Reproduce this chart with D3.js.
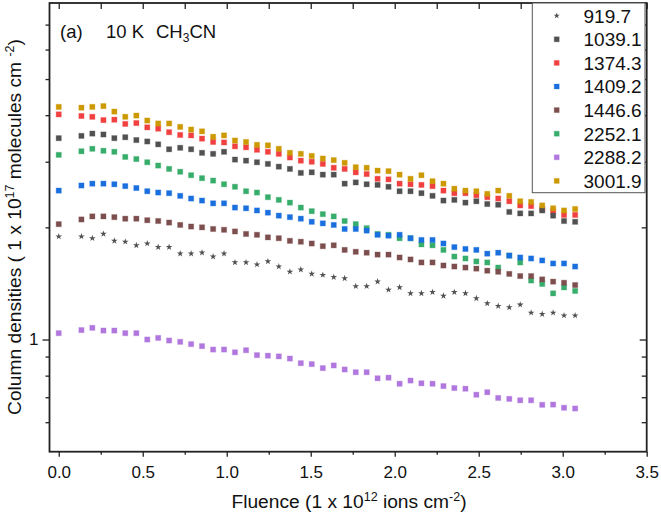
<!DOCTYPE html>
<html><head><meta charset="utf-8">
<script src="https://cdn.jsdelivr.net/npm/d3@7"></script>
<style>
body{margin:0;background:#fff}
svg{display:block}
text{font-family:"Liberation Sans",Arial,Helvetica,sans-serif;fill:#111}
</style>
</head><body>
<svg id="c" width="661" height="515"></svg>
<script>
// ---------------- data ----------------
const fluence = [0, 0.135, 0.200, 0.266, 0.331, 0.396, 0.462, 0.527, 0.592, 0.657, 0.723, 0.788, 0.853, 0.919, 0.984,
  1.049, 1.115, 1.180, 1.245, 1.310, 1.376, 1.441, 1.506, 1.572, 1.637, 1.702, 1.768, 1.833, 1.898, 1.963, 2.029,
  2.094, 2.159, 2.225, 2.290, 2.355, 2.421, 2.486, 2.551, 2.616, 2.682, 2.747, 2.812, 2.878, 2.943, 3.008, 3.074];

const s919_7 = [1.89,1.89,1.87,1.92,1.84,1.83,1.79,1.81,1.77,1.77,1.70,1.70,1.71,1.67,1.70,
  1.61,1.61,1.59,1.62,1.57,1.52,1.54,1.50,1.49,1.47,1.46,1.39,1.39,1.43,1.36,1.38,
  1.33,1.33,1.34,1.31,1.34,1.33,1.29,1.25,1.23,1.22,1.24,1.18,1.17,1.18,1.16,1.16];
const s1039_1 = [3.47,3.52,3.57,3.55,3.47,3.49,3.43,3.40,3.34,3.24,3.27,3.24,3.17,3.15,3.19,
  3.04,3.02,2.99,2.96,2.91,2.87,2.80,2.81,2.77,2.77,2.62,2.64,2.61,2.60,2.57,2.50,
  2.50,2.47,2.43,2.36,2.37,2.33,2.35,2.31,2.30,2.20,2.18,2.18,2.22,2.15,2.08,2.07];
const s1374_3 = [4.02,3.98,3.96,3.88,3.89,3.79,3.81,3.71,3.68,3.60,3.54,3.53,3.46,3.39,3.38,
  3.30,3.28,3.23,3.19,3.15,3.08,3.02,3.00,2.96,2.89,2.87,2.81,2.78,2.70,2.69,2.62,
  2.61,2.60,2.58,2.51,2.47,2.47,2.44,2.41,2.39,2.35,2.29,2.28,2.24,2.21,2.16,2.16];
const s1409_2 = [2.51,2.59,2.62,2.62,2.61,2.58,2.55,2.50,2.48,2.47,2.43,2.39,2.36,2.32,2.32,
  2.26,2.25,2.22,2.19,2.15,2.13,2.11,2.07,2.05,2.03,1.98,1.98,1.96,1.91,1.90,1.91,
  1.87,1.85,1.85,1.81,1.77,1.75,1.74,1.70,1.71,1.68,1.66,1.65,1.63,1.60,1.60,1.57];
const s1446_6 = [2.04,2.10,2.14,2.14,2.13,2.11,2.11,2.09,2.08,2.06,2.03,2.01,2.00,1.98,1.97,
  1.95,1.92,1.91,1.88,1.87,1.84,1.83,1.81,1.78,1.79,1.74,1.72,1.71,1.69,1.69,1.66,
  1.64,1.61,1.61,1.58,1.57,1.56,1.55,1.53,1.52,1.50,1.48,1.48,1.45,1.43,1.42,1.40];
const s2252_1 = [3.13,3.20,3.25,3.21,3.19,3.09,3.05,2.99,2.93,2.87,2.82,2.76,2.71,2.67,2.61,
  2.57,2.50,2.48,2.41,2.37,2.33,2.26,2.21,2.17,2.14,2.08,2.04,1.99,1.92,1.91,1.87,
  1.87,1.80,1.79,1.74,1.67,1.65,1.62,1.61,1.56,1.68,1.61,1.44,1.41,1.33,1.38,1.35];
const s2288_2 = [1.04,1.06,1.075,1.057,1.057,1.04,1.04,1.00,1.01,0.994,0.986,0.972,0.960,0.940,0.940,0.924,0.936,0.908,0.905,0.901,0.889,0.864,0.859,
  0.838,0.852,0.831,0.817,0.817,0.787,0.790,0.761,0.776,0.763,0.761,0.750,0.741,0.738,0.711,0.722,0.697,0.693,0.687,0.687,0.668,0.669,0.656,0.653];
const s3001_9 = [4.21,4.19,4.21,4.23,4.09,3.96,3.99,3.87,3.80,3.80,3.72,3.66,3.62,3.50,3.53,
  3.42,3.39,3.33,3.32,3.25,3.17,3.15,3.11,3.06,3.03,2.98,2.90,2.89,2.84,2.83,2.77,
  2.70,2.76,2.66,2.62,2.54,2.51,2.50,2.46,2.51,2.43,2.35,2.34,2.29,2.25,2.22,2.24];

const legendNames = ["919.7","1039.1","1374.3","1409.2","1446.6","2252.1","2288.2","3001.9"];
const seriesValues = [s919_7, s1039_1, s1374_3, s1409_2, s1446_6, s2252_1, s2288_2, s3001_9];
const colors = ["#515151","#515151","#F14040","#1A6FDF","#7D4E4E","#37AD6B","#B177DE","#CC9900"];
const shapes = ["star","square","square","square","square","square","square","square"];
const drawOrder = [5,3,4,2,1,7,6,0];

const xMajor = [0,0.5,1.0,1.5,2.0,2.5,3.0,3.5];
const xMinor = [0.25,0.75,1.25,1.75,2.25,2.75,3.25];
const yMajor = [1];
const yMinor = [0.6,0.7,0.8,0.9,2,3,4,5,6,7];

// ---------------- layout ----------------
const L = 49.5, R = 646.7, T = 3, B = 451.7;
const svg = d3.select("#c");
const x = d3.scaleLinear().domain([-0.055, 3.5]).range([L, R]);
const y = d3.scaleLog().domain([0.5, 8]).range([B, T]);

// data
const plot = svg.append("g");
drawOrder.forEach(si => {
  const pts = fluence.map((f, i) => ({x: f, y: seriesValues[si][i]}));
  const g = plot.append("g");
  if (shapes[si] === "star") {
    g.selectAll("path").data(pts).join("path")
      .attr("d", d3.symbol(d3.symbolStar).size(14))
      .attr("transform", d => `translate(${x(d.x)},${y(d.y)})`)
      .attr("fill", colors[si]);
  } else {
    const s = 5.2;
    g.selectAll("rect").data(pts).join("rect")
      .attr("x", d => x(d.x) - s/2).attr("y", d => y(d.y) - s/2)
      .attr("width", s).attr("height", s)
      .attr("fill", colors[si])
      .attr("stroke", colors[si]).attr("stroke-opacity", 0.3).attr("stroke-width", 1);
  }
});

// axes
function styleAxis(g){
  g.select(".domain").remove();
  g.selectAll(".tick line").attr("stroke", "#222").attr("stroke-width", 1.3);
  g.selectAll("text").attr("font-size", 17).attr("fill", "#111")
    .attr("font-family", '"Liberation Sans",Arial,sans-serif');
}
svg.append("g").attr("transform", `translate(0,${B})`)
  .call(d3.axisBottom(x).tickValues(xMajor).tickSize(5).tickPadding(9).tickFormat(d3.format(".1f"))).call(styleAxis);
svg.append("g").attr("transform", `translate(0,${B})`)
  .call(d3.axisBottom(x).tickValues(xMinor).tickSize(3).tickFormat("")).call(styleAxis);
svg.append("g").attr("transform", `translate(0,${T})`)
  .call(d3.axisBottom(x).tickValues(xMajor.concat(xMinor)).tickSize(6).tickFormat("")).call(styleAxis);
svg.append("g").attr("transform", `translate(${L},0)`)
  .call(d3.axisLeft(y).tickValues(yMajor).tickSize(7).tickPadding(4).tickFormat(d3.format("d"))).call(styleAxis);
svg.append("g").attr("transform", `translate(${L},0)`)
  .call(d3.axisLeft(y).tickValues(yMinor).tickSize(4).tickFormat("")).call(styleAxis);
svg.append("g").attr("transform", `translate(${R},0)`)
  .call(d3.axisLeft(y).tickValues(yMajor).tickSize(7).tickFormat("")).call(styleAxis);
svg.append("g").attr("transform", `translate(${R},0)`)
  .call(d3.axisLeft(y).tickValues(yMinor).tickSize(5).tickFormat("")).call(styleAxis);

// frame
svg.append("rect").attr("x", L).attr("y", T).attr("width", R - L).attr("height", B - T)
  .attr("fill", "none").attr("stroke", "#222").attr("stroke-width", 1.8);

// legend
const lg = svg.append("g");
lg.append("rect").attr("x", 532.3).attr("y", T).attr("width", 112.7).attr("height", 189.7)
  .attr("fill", "#fff").attr("stroke", "#555").attr("stroke-width", 1);
legendNames.forEach((n, i) => {
  const cy = 15.7 + i * 23.6;
  if (shapes[i] === "star") {
    lg.append("path").attr("d", d3.symbol(d3.symbolStar).size(12))
      .attr("transform", `translate(556.7,${cy})`).attr("fill", colors[i]);
  } else {
    lg.append("rect").attr("x", 556.7 - 2.5).attr("y", cy - 2.5).attr("width", 5).attr("height", 5)
      .attr("fill", colors[i]).attr("stroke", colors[i]).attr("stroke-opacity", 0.3);
  }
  lg.append("text").attr("x", 583.5).attr("y", cy).attr("dy", "0.36em")
    .attr("font-size", 19).text(n);
});

// annotation
const ann = svg.append("g");
ann.append("text").attr("x", 60).attr("y", 38).attr("font-size", 18.5).text("(a)");
ann.append("text").attr("x", 106).attr("y", 38).attr("font-size", 18.5).text("10 K");
const ch = ann.append("text").attr("x", 156).attr("y", 38).attr("font-size", 18.5);
ch.append("tspan").text("CH");
ch.append("tspan").attr("font-size", 12).attr("dy", 4).text("3");
ch.append("tspan").attr("dy", -4).text("CN");

// axis titles
const xt = svg.append("text").attr("x", 349).attr("y", 508).attr("text-anchor", "middle").attr("font-size", 19.2);
xt.append("tspan").text("Fluence (1 x 10");
xt.append("tspan").attr("font-size", 12.5).attr("dy", -7).text("12");
xt.append("tspan").attr("dy", 7).text(" ions cm");
xt.append("tspan").attr("font-size", 12.5).attr("dy", -7).text("-2");
xt.append("tspan").attr("dy", 7).text(")");

const yt = svg.append("text").attr("transform", "translate(20.5,227) rotate(-90)")
  .attr("text-anchor", "middle").attr("font-size", 19.2);
yt.append("tspan").text("Column densities ( 1 x 10");
yt.append("tspan").attr("font-size", 12.5).attr("dy", -7).text("17");
yt.append("tspan").attr("dy", 7).text(" molecules cm ");
yt.append("tspan").attr("font-size", 12.5).attr("dy", -7).text("-2");
yt.append("tspan").attr("dy", 7).text(")");
</script>
</body></html>
